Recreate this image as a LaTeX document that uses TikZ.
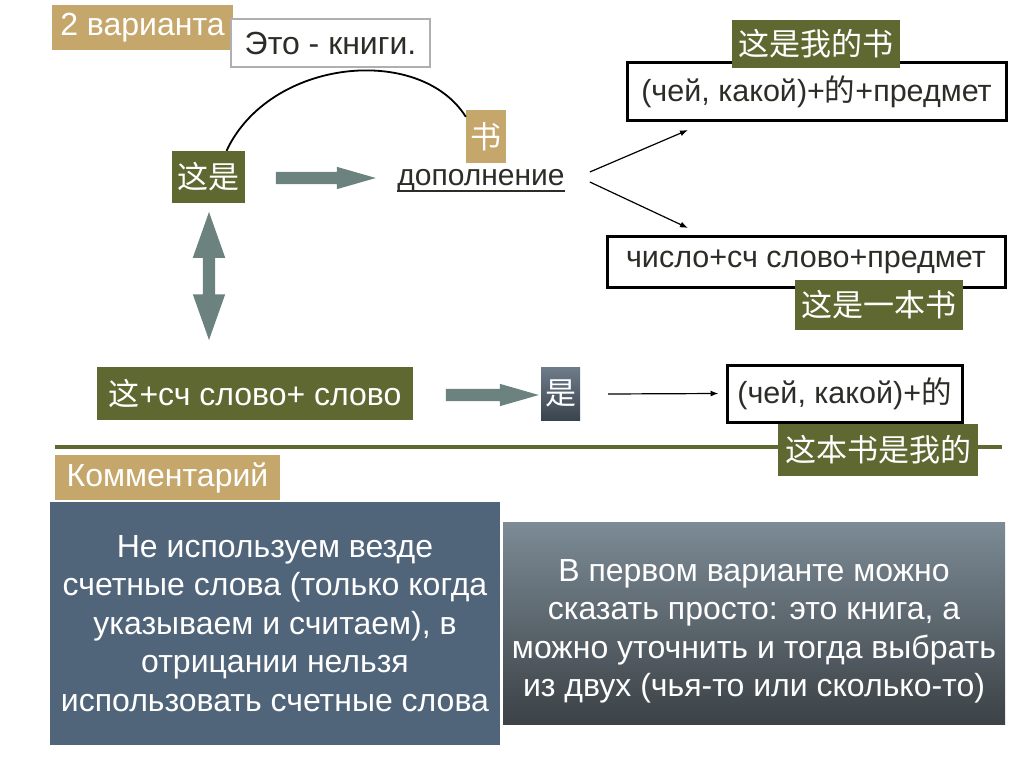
\documentclass[tikz,border=0pt]{standalone}
\usepackage{fontspec}
\setmainfont{Liberation Sans}
\newfontfamily\cjk{Noto Sans CJK SC}
\usetikzlibrary{arrows.meta,calc,positioning,shapes.arrows}
\definecolor{olivebg}{RGB}{95,104,48}
\definecolor{tanbg}{RGB}{197,167,108}
\definecolor{arrowbg}{RGB}{108,130,127}
\definecolor{slatebg}{RGB}{80,100,122}
\definecolor{darktext}{RGB}{45,45,40}
\tikzset{
    slide/.style      = {x=1pt, y=-1pt, >={Latex[length=8pt, width=6pt]}},
    plain box/.style  = {inner sep=0pt, align=center},
    olivebox/.style   = {plain box, fill=olivebg, text=white,
                         font=\cjk\fontsize{31}{33}\selectfont},
    tanbox/.style     = {plain box, fill=tanbg, text=white,
                         font=\fontsize{32}{34}\selectfont},
    framebox/.style   = {plain box, draw=black, line width=3pt, fill=white,
                         text=darktext, font=\fontsize{30.5}{32}\selectfont},
    thinbox/.style    = {plain box, draw={rgb,255:red,175;green,175;blue,175},
                         line width=1.5pt, fill=white, text=darktext,
                         font=\fontsize{32}{34}\selectfont},
    blockarrow/.style = {single arrow, fill=arrowbg, inner sep=6pt,
                         single arrow head extend=5pt,
                         single arrow tip angle=32},
    thinarrow/.style  = {->, line width=1.2pt},
    note/.style       = {plain box, text=white,
                         font=\fontsize{32}{38.5}\selectfont}
}

\begin{document}
\begin{tikzpicture}[slide]
\useasboundingbox (0,0) rectangle (1024,767);

% ---- top row: this is a book ----
\node[tanbox, minimum width=181, minimum height=45] (variants) at (142.5,27.5) {2 варианта};
\node[thinbox, minimum width=199, minimum height=48] (eto) at (330.5,43) {Это - книги.};
\node[olivebox, minimum width=73, minimum height=52] (zheshi) at (208.5,177) {这是};
\node[blockarrow, minimum height=100] (arrA) at (315,178) {};
\node[tanbox, font=\cjk\fontsize{31}{33}\selectfont,
      minimum width=40, minimum height=53] (shu) at (486,136.5) {书};
\node[text=darktext, font=\fontsize{30}{32}\selectfont, inner sep=0pt] (dopoln) at (481,180)
    {дополнение};
\draw[darktext, line width=1.8pt] ([yshift=-6pt]dopoln.base west) -- ([yshift=-6pt]dopoln.base east);
\draw[line width=1.8pt] ([xshift=18pt]zheshi.north)
    .. controls (270,58) and (420,44) .. ([yshift=-7pt]shu.north west);

% ---- two ways to say it ----
\node[framebox, minimum width=379, minimum height=58] (whose) at (816.5,92)
    {(чей, какой)+{\cjk 的}+предмет};
\node[olivebox, minimum width=168, minimum height=48] (wode) at (816,44) {这是我的书};
\node[framebox, minimum width=398, minimum height=51] (count) at (806,261.5)
    {число+сч слово+предмет};
\node[olivebox, minimum width=168, minimum height=50] (yiben) at (879,305) {这是一本书};
\coordinate (up end) at (688,130);
\coordinate (down end) at (688,228);
\draw[thinarrow] ([xshift=25pt,yshift=8pt]dopoln.east) -- (up end);
\draw[thinarrow] ([xshift=25pt,yshift=-2pt]dopoln.east) -- (down end);

% ---- second row ----
\node[double arrow, fill=arrowbg, inner sep=6pt, double arrow head extend=10pt,
      double arrow tip angle=39, minimum height=128, rotate=90] (arrV) at (209,276) {};
\node[olivebox, minimum width=316, minimum height=53] (zhe) at (255,393.5)
    {这{\rmfamily\fontsize{32}{34}\selectfont +сч слово+ слово}};
\node[blockarrow, minimum height=93] (arrB) at (481.5,395) {};
\node[plain box, text=white, font=\cjk\fontsize{31}{33}\selectfont,
      top color={rgb,255:red,110;green,124;blue,138},
      bottom color={rgb,255:red,58;green,68;blue,78},
      minimum width=39, minimum height=53] (shi) at (560.5,393.5) {是};
\node[framebox, minimum width=235, minimum height=57] (mine) at (844.5,393.5)
    {(чей, какой)+{\cjk 的}};
\draw[thinarrow] ([xshift=28pt,yshift=-0.5pt]shi.east) -- ([xshift=-7pt]mine.west);

% ---- divider ----
\draw[olivebg, line width=4pt] (55,447) -- (1002,447);
\node[olivebox, minimum width=200, minimum height=52] (benshu) at (878,450) {这本书是我的};

% ---- comments ----
\node[tanbox, minimum width=225, minimum height=45] (comment) at (167.5,477.5) {Комментарий};
\node[note, fill=slatebg, minimum width=450, minimum height=243] (left note) at (275,623.5)
    {Не используем везде\\счетные слова (только когда\\указываем и считаем), в\\
     отрицании нельзя\\использовать счетные слова};
\node[note, top color={rgb,255:red,124;green,139;blue,150},
      bottom color={rgb,255:red,60;green,66;blue,70},
      minimum width=502, minimum height=202] (right note) at (754,623)
    {\rule{0pt}{39pt}В первом варианте можно\\сказать просто: это книга, а\\можно уточнить и тогда выбрать\\
     из двух (чья-то или сколько-то)};

\end{tikzpicture}
\end{document}
